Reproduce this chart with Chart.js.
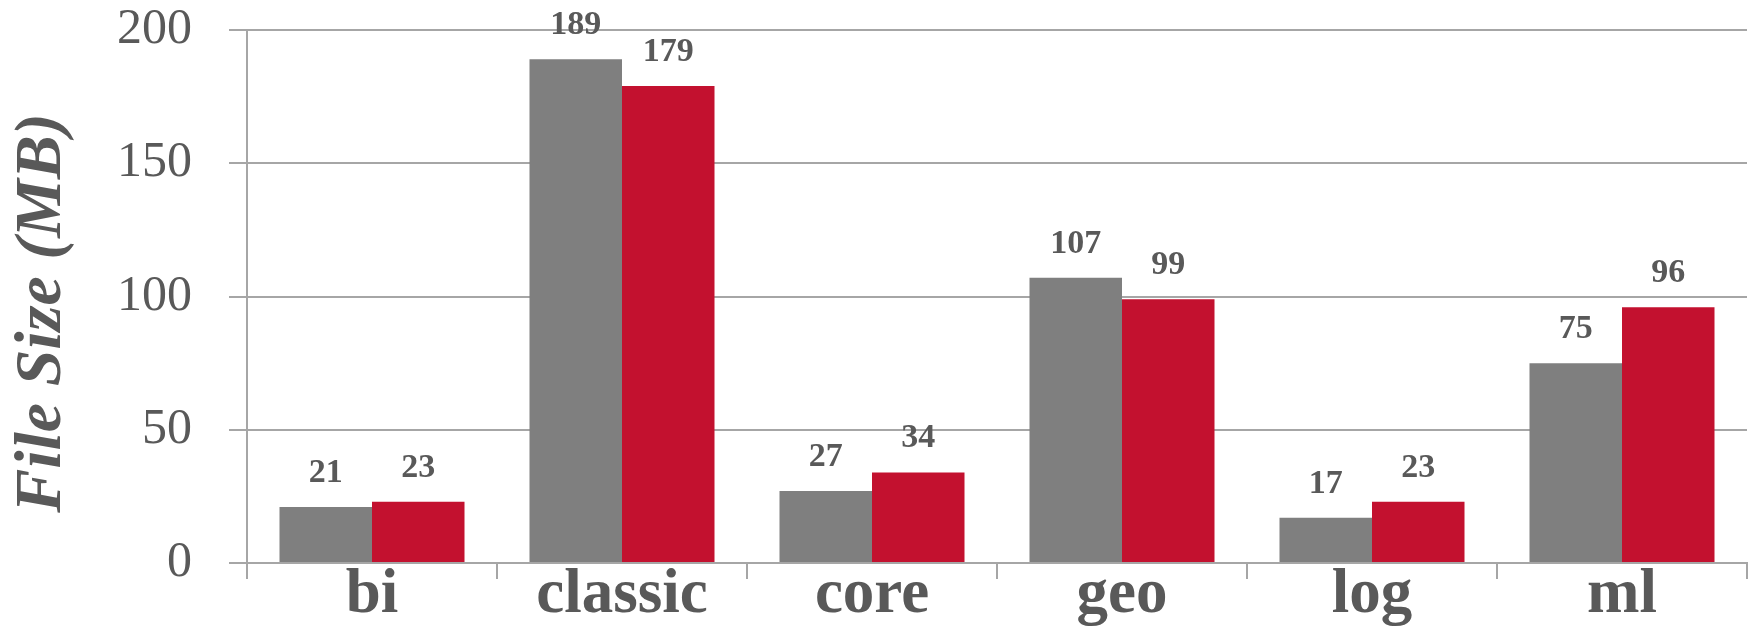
<!DOCTYPE html>
<html>
<head>
<meta charset="utf-8">
<title>File Size by Module</title>
<script src="https://cdn.jsdelivr.net/npm/chart.js@4/dist/chart.umd.min.js"></script>
<style>
  html, body { margin: 0; padding: 0; background: #ffffff; }
  #wrap { width: 1754px; height: 630px; }
</style>
</head>
<body>
<div id="wrap"><canvas id="chart" width="1754" height="630"></canvas></div>
<script>
// Modules on the x axis
const categories = ['bi', 'classic', 'core', 'geo', 'log', 'ml'];
// File sizes in MB, two builds per module
const seriesGrey = [21, 189, 27, 107, 17, 75];
const seriesRed  = [23, 179, 34, 99, 23, 96];
// Y axis range
const yMin = 0;
const yMax = 200;
const yStep = 50;
const yTitle = 'File Size (MB)';

const TEXT = '#595959';
const GRID = '#a6a6a6';
const SERIF = '"Liberation Serif", "DejaVu Serif", serif';

// Writes each bar's value above it
const valueLabels = {
  id: 'valueLabels',
  afterDatasetsDraw(chart) {
    const ctx = chart.ctx;
    ctx.save();
    ctx.font = 'bold 34px ' + SERIF;
    ctx.fillStyle = TEXT;
    ctx.textAlign = 'center';
    ctx.textBaseline = 'alphabetic';
    chart.data.datasets.forEach((ds, di) => {
      const meta = chart.getDatasetMeta(di);
      meta.data.forEach((bar, i) => {
        ctx.fillText(String(ds.data[i]), bar.x, bar.y - 25);
      });
    });
    ctx.restore();
  }
};

// Rotated axis title on the left
const axisTitle = {
  id: 'axisTitle',
  afterDraw(chart) {
    const ctx = chart.ctx;
    ctx.save();
    ctx.translate(60, 313);
    ctx.rotate(-Math.PI / 2);
    ctx.font = 'italic bold 66px ' + SERIF;
    ctx.fillStyle = TEXT;
    ctx.textAlign = 'center';
    ctx.textBaseline = 'alphabetic';
    ctx.fillText(yTitle, 0, 0);
    ctx.restore();
  }
};

new Chart(document.getElementById('chart'), {
  type: 'bar',
  data: {
    labels: categories,
    datasets: [
      { label: 'Series 1', data: seriesGrey, backgroundColor: '#7f7f7f', borderWidth: 0 },
      { label: 'Series 2', data: seriesRed,  backgroundColor: '#c3112f', borderWidth: 0 }
    ]
  },
  options: {
    responsive: false,
    animation: false,
    devicePixelRatio: 1,
    layout: { padding: { top: 30, right: 7, bottom: 0, left: 0 } },
    datasets: { bar: { categoryPercentage: 0.74, barPercentage: 1.0 } },
    plugins: {
      legend: { display: false },
      tooltip: { enabled: false },
      title: { display: false }
    },
    scales: {
      x: {
        grid: {
          display: true,
          drawOnChartArea: false,
          drawTicks: true,
          tickLength: 16,
          color: GRID,
          lineWidth: 2
        },
        border: { display: true, color: GRID, width: 2 },
        ticks: {
          color: TEXT,
          font: { family: SERIF, size: 63, weight: 'bold' },
          padding: -21,
          maxRotation: 0,
          autoSkip: false
        },
        afterFit(scale) {
          scale.height = 67;
          scale.paddingLeft = 0;
          scale.paddingRight = 0;
        }
      },
      y: {
        min: yMin,
        max: yMax,
        grid: {
          color: GRID,
          lineWidth: 2,
          drawTicks: true,
          tickLength: 18
        },
        border: { display: true, color: GRID, width: 2 },
        ticks: {
          stepSize: yStep,
          color: TEXT,
          font: { family: SERIF, size: 50 },
          padding: 37
        },
        afterFit(scale) {
          scale.width = 247;
          scale.paddingTop = 0;
          scale.paddingBottom = 0;
        }
      }
    }
  },
  plugins: [valueLabels, axisTitle]
});
</script>
</body>
</html>
